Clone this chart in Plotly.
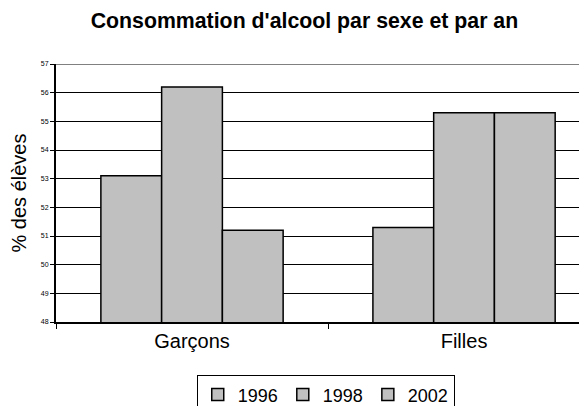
import plotly.graph_objects as go

categories = ["Garçons", "Filles"]
years = ["1996", "1998", "2002"]
values = {
    "1996": [53.1, 51.3],
    "1998": [56.2, 55.3],
    "2002": [51.2, 55.3],
}
y_ticks = [48, 49, 50, 51, 52, 53, 54, 55, 56, 57]

fig = go.Figure()
for yr in years:
    fig.add_trace(go.Bar(
        x=categories, y=values[yr], name=yr,
        marker=dict(color="#C0C0C0", line=dict(color="black", width=1.5)),
    ))

# page body has an 8px margin, so the figure is offset by 8px right and down
fig.update_layout(
    width=587, height=406,
    margin=dict(l=48, r=8, t=56, b=92, autoexpand=False),
    paper_bgcolor="white", plot_bgcolor="white",
    font=dict(family="Liberation Sans, Arial", color="black"),
    title=dict(text="<b>Consommation d'alcool par sexe et par an</b>",
               x=0.505, xanchor="center", y=0.968, yanchor="middle",
               font=dict(size=21.3)),
    barmode="group", bargap=0.33, bargroupgap=0,
    showlegend=True,
    legend=dict(orientation="h", x=0.508, xanchor="center", y=-0.207, yanchor="top",
                bordercolor="black", borderwidth=1, bgcolor="white",
                font=dict(size=18), itemwidth=30, tracegroupgap=0),
)
fig.update_xaxes(
    range=[-0.5, 1.452], showgrid=False, showline=True, linecolor="black", linewidth=2,
    ticks="outside", tickson="boundaries", ticklen=5, tickcolor="black",
    tickfont=dict(size=20), automargin=False,
)
fig.update_yaxes(
    range=[48, 57], tickvals=y_ticks, showgrid=True, gridcolor="black", gridwidth=1,
    showline=True, linecolor="black", linewidth=2, ticks="outside", ticklen=4,
    tickcolor="black", tickfont=dict(size=7), zeroline=False, automargin=False,
    title=dict(text="% des élèves", font=dict(size=20), standoff=10),
)
fig.add_shape(type="line", xref="paper", yref="y", x0=0, x1=1, y0=57, y1=57,
              line=dict(color="#808080", width=2))
fig.write_html("out.html")
